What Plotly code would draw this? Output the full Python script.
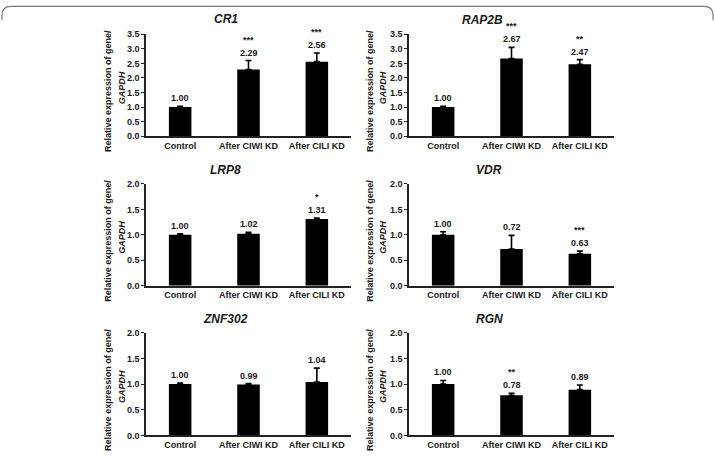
import plotly.graph_objects as go

W, H = 715, 457

categories = ["Control", "After CIWI KD", "After CILI KD"]

genes = ["CR1", "RAP2B", "LRP8", "VDR", "ZNF302", "RGN"]
values_cr1 = [1.00, 2.29, 2.56]
errors_cr1 = [0.02, 0.31, 0.30]
stars_cr1 = ["", "***", "***"]
values_rap2b = [1.00, 2.67, 2.47]
errors_rap2b = [0.02, 0.38, 0.16]
stars_rap2b = ["", "***", "**"]
values_lrp8 = [1.00, 1.02, 1.31]
errors_lrp8 = [0.02, 0.03, 0.02]
stars_lrp8 = ["", "", "*"]
values_vdr = [1.00, 0.72, 0.63]
errors_vdr = [0.06, 0.27, 0.05]
stars_vdr = ["", "", "***"]
values_znf302 = [1.00, 0.99, 1.04]
errors_znf302 = [0.02, 0.02, 0.27]
stars_znf302 = ["", "", ""]
values_rgn = [1.00, 0.78, 0.89]
errors_rgn = [0.07, 0.04, 0.09]
stars_rgn = ["", "**", ""]

y_max = [3.5, 3.5, 2.0, 2.0, 2.0, 2.0]
y_ticks_top = [0.0, 0.5, 1.0, 1.5, 2.0, 2.5, 3.0, 3.5]
y_ticks_low = [0.0, 0.5, 1.0, 1.5, 2.0]

panels = [
    (values_cr1, errors_cr1, stars_cr1),
    (values_rap2b, errors_rap2b, stars_rap2b),
    (values_lrp8, errors_lrp8, stars_lrp8),
    (values_vdr, errors_vdr, stars_vdr),
    (values_znf302, errors_znf302, stars_znf302),
    (values_rgn, errors_rgn, stars_rgn),
]

# layout in pixels
col_x = [(146, 351), (409, 614)]
row_y = [(30, 134), (183, 287), (335, 440)]
title_pos = [(226, 16), (483, 15), (226, 14), (489, 14), (226, 14), (489, 14)]
ylab_x = [(108, 122), (370, 383)]

FONT = "Liberation Sans, Arial, sans-serif"
TXT = "#1a1a1a"

def px_x(p):
    return p / W

def px_y(p):
    return 1 - p / H

fig = go.Figure()
annotations = []

for i, (vals, errs, stars) in enumerate(panels):
    r, c = divmod(i, 2)
    n = i + 1
    xa = "x" if n == 1 else f"x{n}"
    ya = "y" if n == 1 else f"y{n}"
    fig.add_trace(go.Bar(
        x=categories, y=vals, xaxis=xa, yaxis=ya,
        marker=dict(color="#000000", line=dict(width=0)),
        width=0.33,
        error_y=dict(type="data", array=errs, arrayminus=[0] * 3, symmetric=False,
                     color="#000000", thickness=1.6, width=3),
        showlegend=False, hoverinfo="skip",
    ))
    x0, x1 = col_x[c]
    y0, y1 = row_y[r]
    ticks = y_ticks_top if y_max[i] > 2 else y_ticks_low
    fig.layout[f"xaxis{'' if n == 1 else n}"] = dict(
        domain=[px_x(x0), px_x(x1)], anchor=ya, type="category",
        showline=True, linecolor="#222", linewidth=1.6, ticks="",
        tickfont=dict(family=FONT, size=9, color=TXT, weight="bold"),
        showgrid=False, zeroline=False, fixedrange=True,
    )
    fig.layout[f"yaxis{'' if n == 1 else n}"] = dict(
        domain=[px_y(y1), px_y(y0)], anchor=xa, range=[0, y_max[i]],
        tickvals=ticks, ticktext=[f"{t:.1f}" for t in ticks],
        showline=True, linecolor="#222", linewidth=1.6, ticks="outside",
        ticklen=3, tickwidth=1.2, tickcolor="#222",
        tickfont=dict(family=FONT, size=9, color=TXT, weight="bold"),
        showgrid=False, zeroline=False, fixedrange=True,
    )
    # gene title
    tx, ty = title_pos[i]
    annotations.append(dict(
        text=f"<b><i>{genes[i]}</i></b>", xref="paper", yref="paper",
        x=px_x(tx), y=px_y(y0 - ty), showarrow=False,
        xanchor="center", yanchor="middle",
        font=dict(family=FONT, size=12, color=TXT),
    ))
    # y-axis title, two lines
    yc = px_y((y0 + y1) / 2 + 6)
    annotations.append(dict(
        text="<b>Relative expression of gene/</b>", xref="paper", yref="paper",
        x=px_x(ylab_x[c][0]), y=yc, textangle=-90, showarrow=False,
        xanchor="center", yanchor="middle",
        font=dict(family=FONT, size=9, color=TXT),
    ))
    annotations.append(dict(
        text="<b><i>GAPDH</i></b>", xref="paper", yref="paper",
        x=px_x(ylab_x[c][1]), y=px_y((y0 + y1) / 2 + 3), textangle=-90, showarrow=False,
        xanchor="center", yanchor="middle",
        font=dict(family=FONT, size=9, color=TXT),
    ))
    # value labels and stars
    for cat, v, e, s in zip(categories, vals, errs, stars):
        annotations.append(dict(
            text=f"<b>{v:.2f}</b>", xref=xa, yref=ya, x=cat, y=v + e,
            showarrow=False, xanchor="center", yanchor="bottom", yshift=1,
            font=dict(family=FONT, size=9, color=TXT),
        ))
        if s:
            annotations.append(dict(
                text=f"<b>{s}</b>", xref=xa, yref=ya, x=cat, y=v + e,
                showarrow=False, xanchor="center", yanchor="bottom", yshift=14,
                font=dict(family=FONT, size=9, color=TXT),
            ))

# rounded frame (top part visible)
rx = 9
fx0, fx1, fy = 2, 713, 1.5
path = (f"M {px_x(fx0)},{px_y(fy + 14)} L {px_x(fx0)},{px_y(fy + rx)} "
        f"Q {px_x(fx0)},{px_y(fy)} {px_x(fx0 + rx)},{px_y(fy)} "
        f"L {px_x(fx1 - rx)},{px_y(fy)} "
        f"Q {px_x(fx1)},{px_y(fy)} {px_x(fx1)},{px_y(fy + rx)} L {px_x(fx1)},{px_y(fy + 14)}")

fig.update_layout(
    width=W, height=H, margin=dict(l=0, r=0, t=0, b=0),
    paper_bgcolor="white", plot_bgcolor="white",
    bargap=0.66, annotations=annotations,
    shapes=[dict(type="path", path=path, xref="paper", yref="paper",
                 line=dict(color="#777", width=1.2))],
)

fig.write_html("out.html")
